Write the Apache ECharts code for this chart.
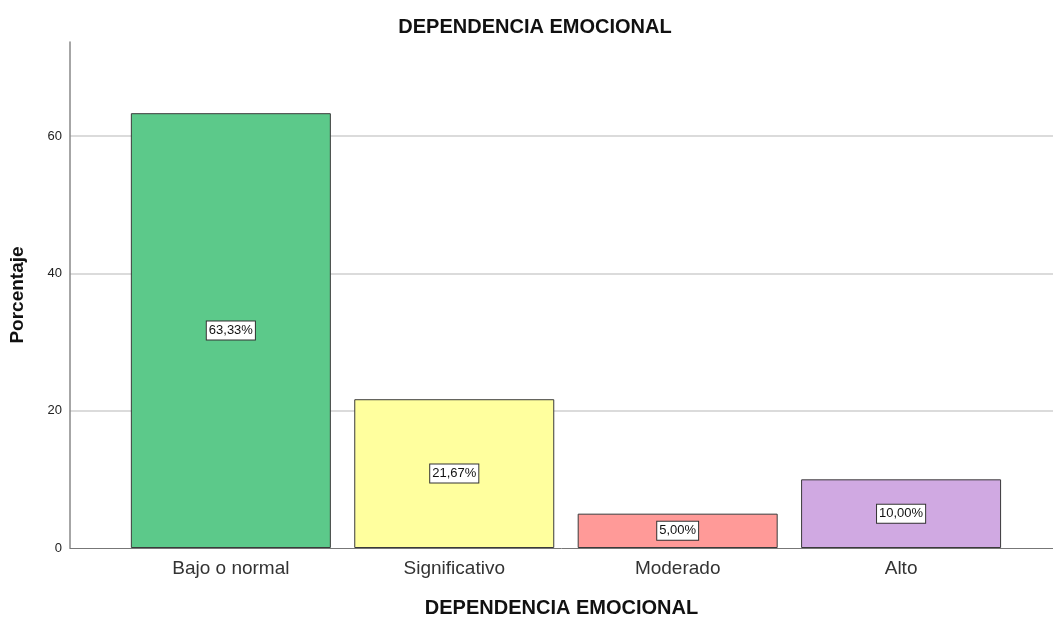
<!DOCTYPE html>
<head>
    <meta charset="UTF-8">
    <title>Dependencia emocional</title>
    <script src="https://cdn.jsdelivr.net/npm/echarts@6/dist/echarts.min.js"></script>
    <style>
        body { margin: 0; background: #fff; }
        #main { width: 1053px; height: 618px; }
    </style>
</head>
<body>
    <div id="main"></div>
    <script type="text/javascript">
        // data
        var categories = ['Bajo o normal', 'Significativo', 'Moderado', 'Alto'];
        var percents = [63.33, 21.67, 5.00, 10.00];
        var barColors = ['#5CC98A', '#FFFF9E', '#FF9A98', '#D0A9E2'];
        var yTicks = [0, 20, 40, 60];

        var myChart = echarts.init(document.getElementById('main'));

        var barData = [];
        for (var i = 0; i < categories.length; i++) {
            barData.push({
                value: [i, percents[i]],
                itemStyle: { color: barColors[i] }
            });
        }

        myChart.setOption({
            animation: false,
            textStyle: { fontFamily: 'Liberation Sans, Arial, sans-serif' },
            title: {
                text: 'DEPENDENCIA EMOCIONAL',
                left: 530,
                textAlign: 'center',
                top: 12,
                textStyle: { fontSize: 20, fontWeight: 'bold', color: '#111' }
            },
            grid: { left: 70, right: 0, top: 42, bottom: 70, outerBoundsMode: 'none' },
            xAxis: {
                type: 'value',
                min: -0.72,
                max: 3.68,
                name: 'DEPENDENCIA EMOCIONAL',
                nameLocation: 'middle',
                nameGap: 50,
                nameTextStyle: { fontSize: 20, fontWeight: 'bold', color: '#111' },
                axisLine: { show: true, onZero: false, lineStyle: { color: '#777', width: 1 } },
                axisTick: { show: false },
                splitLine: { show: false },
                axisLabel: {
                    customValues: [0, 1, 2, 3],
                    margin: 11,
                    fontSize: 19,
                    color: '#333',
                    formatter: function (v) { return categories[Math.round(v)]; }
                }
            },
            yAxis: {
                type: 'value',
                min: 0,
                max: 73.7,
                interval: 20,
                name: 'Porcentaje',
                nameLocation: 'middle',
                nameGap: 43,
                nameTextStyle: { fontSize: 19, fontWeight: 'bold', color: '#111' },
                axisLine: { show: true, onZero: false, lineStyle: { color: '#888', width: 1.5 } },
                axisTick: { show: false },
                axisLabel: {
                    customValues: yTicks,
                    fontSize: 13,
                    color: '#222',
                    margin: 8
                },
                splitLine: {
                    show: true,
                    showMinLine: false,
                    showMaxLine: false,
                    lineStyle: { color: '#cfcfcf', width: 1.5 }
                }
            },
            series: [{
                type: 'bar',
                barWidth: 200,
                data: barData,
                itemStyle: { borderColor: '#3a3a3a', borderWidth: 1 },
                label: {
                    show: true,
                    position: 'inside',
                    formatter: function (p) {
                        return p.value[1].toFixed(2).replace('.', ',') + '%';
                    },
                    fontSize: 13,
                    color: '#111',
                    backgroundColor: '#fff',
                    borderColor: '#333',
                    borderWidth: 1,
                    padding: [3, 2, 2, 2]
                }
            }]
        });
    </script>
</body>
